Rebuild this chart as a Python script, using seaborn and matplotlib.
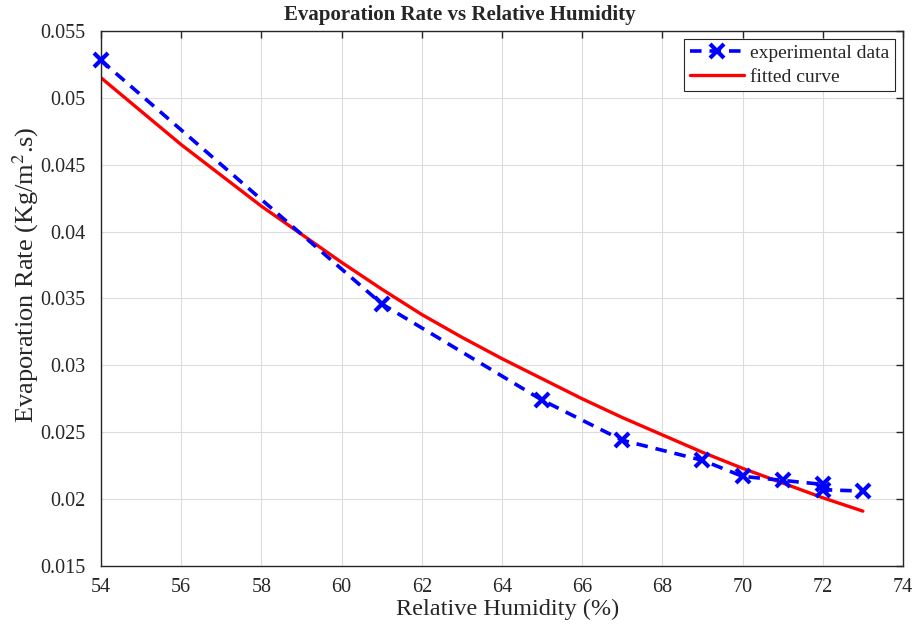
import numpy as np
import pandas as pd
import seaborn as sns
import matplotlib
matplotlib.use("Agg")
import matplotlib.pyplot as plt

# experimental points
humidity = [54, 61, 65, 67, 69, 70, 71, 72, 72, 73]
evap_rate = [0.0528, 0.0346, 0.0274, 0.0244, 0.0229, 0.0217, 0.0214, 0.0211, 0.0207, 0.0206]

# fitted curve, sampled from the chart
fit_humidity = [54, 55, 56, 57, 58, 59, 60, 61, 62, 63, 64, 65, 66, 67, 68, 69, 70, 71, 72, 73]
fit_rate = [0.0515, 0.0490, 0.0465, 0.0442, 0.0419, 0.0398, 0.0377, 0.0357, 0.0338, 0.0321,
            0.0305, 0.0290, 0.0275, 0.0261, 0.0248, 0.0235, 0.0223, 0.0212, 0.0201, 0.0191]

x_ticks = [54, 56, 58, 60, 62, 64, 66, 68, 70, 72, 74]
y_ticks = [0.015, 0.02, 0.025, 0.03, 0.035, 0.04, 0.045, 0.05, 0.055]
y_tick_labels = ["0.015", "0.02", "0.025", "0.03", "0.035", "0.04", "0.045", "0.05", "0.055"]

sns.set_theme(style="whitegrid")
plt.rcParams["font.family"] = ["Liberation Serif", "DejaVu Serif"]
plt.rcParams["mathtext.fontset"] = "stix"

exp_df = pd.DataFrame({"rh": humidity, "rate": evap_rate})
fit_df = pd.DataFrame({"rh": fit_humidity, "rate": fit_rate})

fig = plt.figure(figsize=(9.2, 6.35), dpi=100)
ax = fig.add_axes([0.1098, 0.1087, 0.8717, 0.8425])

sns.lineplot(data=exp_df, x="rh", y="rate", estimator=None, sort=False, ax=ax,
             color="#0000ff", linewidth=2.6, dashes=False, marker="x",
             markersize=10, markeredgewidth=3, markeredgecolor="#0000ff",
             label="experimental data")
exp_line = ax.lines[-1]
exp_line.set_dashes((3.2, 2.2))
exp_line.set_clip_on(False)
exp_line.set_zorder(5)
sns.lineplot(data=fit_df, x="rh", y="rate", estimator=None, sort=False, ax=ax,
             color="#ff0000", linewidth=2.4, label="fitted curve")

ax.set_xlim(54, 74)
ax.set_ylim(0.015, 0.055)
ax.set_xticks(x_ticks)
ax.set_yticks(y_ticks)
ax.set_yticklabels(y_tick_labels)
ax.tick_params(axis="both", direction="in", length=5, width=1, colors="#262626",
               labelsize=14.5, top=True, right=True, labelcolor="#262626")
ax.tick_params(axis="x", pad=9)
ax.tick_params(axis="y", pad=11)

ax.grid(True, color="#dcdcdc", linewidth=0.8)
for side in ax.spines.values():
    side.set_edgecolor("#262626")
    side.set_linewidth(1.0)

ax.set_title("Evaporation Rate vs Relative Humidity", fontsize=15, fontweight="bold",
             x=0.448, pad=8)
ax.set_xlabel("Relative Humidity (%)", fontsize=17.5, color="#262626", va="center")
ax.xaxis.set_label_coords(0.507, -0.082)
ax.set_ylabel("Evaporation Rate (Kg/m$^2$.s)", fontsize=19, color="#262626",
              va="center", ha="center")
ax.yaxis.set_label_coords(-0.094, 0.544)

leg = ax.legend(loc="upper right", fontsize=14, frameon=True, fancybox=False,
                edgecolor="#262626", framealpha=1, borderpad=0.3, handlelength=2.8,
                labelspacing=0.3, handletextpad=0.3, borderaxespad=0.4)
leg.get_frame().set_linewidth(0.8)
leg.set_zorder(10)

fig.savefig("out.png", dpi=100)
